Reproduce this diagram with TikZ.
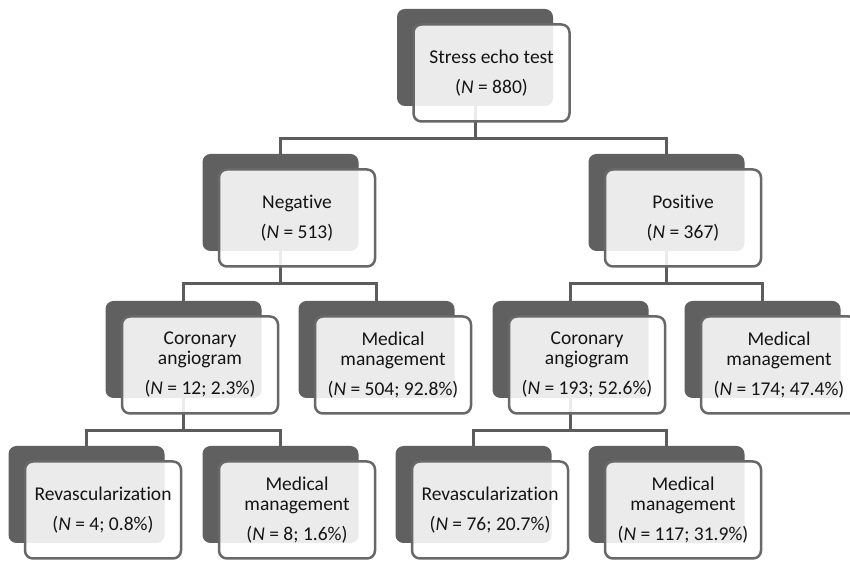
\documentclass[tikz,border=0pt]{standalone}
\usepackage{fontspec}
\setmainfont{Carlito}[Ligatures=NoCommon]
\usetikzlibrary{shadows, backgrounds}
\definecolor{shadowgray}{RGB}{96,96,96}
\definecolor{boxline}{RGB}{104,104,104}
\definecolor{linkgray}{RGB}{92,92,92}
\definecolor{textcol}{RGB}{20,20,20}
\newcommand{\boxfont}{\fontsize{19.5}{20}\selectfont}
\tikzset{
    box/.style={
        rectangle, rounded corners=8pt, draw=boxline, line width=2.5pt,
        fill=white, fill opacity=0.88, text opacity=1, text=textcol,
        minimum width=156pt, minimum height=97pt, align=center, font=\boxfont,
        general shadow={fill=shadowgray, fill opacity=1, draw=none,
            shadow xshift=-16.5pt, shadow yshift=15.5pt}
    },
    shd/.style={shift={(-16.5pt,15.5pt)}},
    link/.style={draw=linkgray, line width=3pt}
}

\begin{document}
\begin{tikzpicture}[x=1pt, y=1pt]
\useasboundingbox (0,0) rectangle (850,561);

% Top
\node[box] (echo) at (491.5,488) {Stress echo test\\[10pt](\textit{N} = 880)};

% Test result
\node[box] (neg) at (297,343) {Negative\\[10pt](\textit{N} = 513)};
\node[box] (pos) at (683,343) {Positive\\[10pt](\textit{N} = 367)};

% Second step
\node[box] (cor1) at (200,196) {Coronary\\angiogram\\[10pt](\textit{N} = 12; 2.3\%)};
\node[box] (med1) at (393,196) {Medical\\management\\[10pt](\textit{N} = 504; 92.8\%)};
\node[box] (cor2) at (587,196) {Coronary\\angiogram\\[10pt](\textit{N} = 193; 52.6\%)};
\node[box] (med2) at (779,196) {Medical\\management\\[10pt](\textit{N} = 174; 47.4\%)};

% After angiogram
\node[box] (rev1) at (103,51) {Revascularization\\[10pt](\textit{N} = 4; 0.8\%)};
\node[box] (med3) at (297,51) {Medical\\management\\[10pt](\textit{N} = 8; 1.6\%)};
\node[box] (rev2) at (490,51) {Revascularization\\[10pt](\textit{N} = 76; 20.7\%)};
\node[box] (med4) at (683,51) {Medical\\management\\[10pt](\textit{N} = 117; 31.9\%)};

% Connectors, behind the boxes
\begin{scope}[on background layer]
\draw[link] ([shd]echo.center) -- ++(0,-81.5) -| ([shd]neg.center);
\draw[link] ([shd]echo.center) -- ++(0,-81.5) -| ([shd]pos.center);
\draw[link] ([shd]neg.center) -- ++(0,-81.5) -| ([shd]cor1.center);
\draw[link] ([shd]neg.center) -- ++(0,-81.5) -| ([shd]med1.center);
\draw[link] ([shd]pos.center) -- ++(0,-81.5) -| ([shd]cor2.center);
\draw[link] ([shd]pos.center) -- ++(0,-81.5) -| ([shd]med2.center);
\draw[link] ([shd]cor1.center) -- ++(0,-81.5) -| ([shd]rev1.center);
\draw[link] ([shd]cor1.center) -- ++(0,-81.5) -| ([shd]med3.center);
\draw[link] ([shd]cor2.center) -- ++(0,-81.5) -| ([shd]rev2.center);
\draw[link] ([shd]cor2.center) -- ++(0,-81.5) -| ([shd]med4.center);
\end{scope}

\end{tikzpicture}
\end{document}
